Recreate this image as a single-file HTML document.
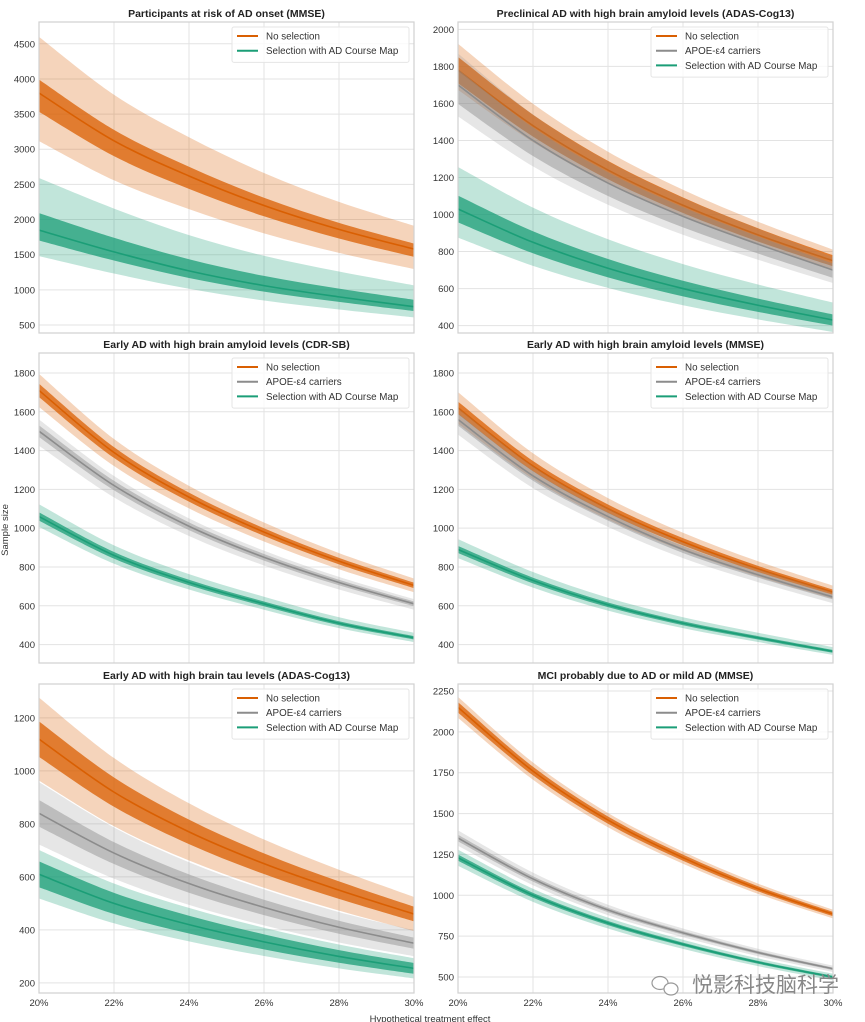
<!DOCTYPE html>
<html><head><meta charset="utf-8"><style>
body{margin:0;background:#fff;}
svg{display:block;font-family:"Liberation Sans","Noto Sans CJK SC",sans-serif;}
</style></head><body>
<svg id="chart" width="865" height="1022" viewBox="0 0 865 1022" xmlns="http://www.w3.org/2000/svg">
<text x="8" y="530" transform="rotate(-90 8 530)" font-size="9.5" fill="#333" text-anchor="middle">Sample size</text>
<text x="430" y="1022" font-size="9.5" fill="#333" text-anchor="middle">Hypothetical treatment effect</text>
</svg>
<script>
const effects=[20,22,24,26,28,30];
const xTicks=["20%","22%","24%","26%","28%","30%"];
const titles=["Participants at risk of AD onset (MMSE)","Preclinical AD with high brain amyloid levels (ADAS-Cog13)","Early AD with high brain amyloid levels (CDR-SB)","Early AD with high brain amyloid levels (MMSE)","Early AD with high brain tau levels (ADAS-Cog13)","MCI probably due to AD or mild AD (MMSE)"];
const seriesNames=["No selection","APOE-ε4 carriers","Selection with AD Course Map"];
// panel 1
const p1Orange=[3800,3120,2620,2200,1860,1580];
const p1Green=[1850,1540,1270,1060,900,760];
// panel 2
const p2Orange=[1780,1480,1240,1050,890,750];
const p2Gray=[1700,1400,1170,990,840,700];
const p2Green=[1030,850,710,600,510,430];
// panel 3
const p3Orange=[1710,1390,1160,980,830,705];
const p3Gray=[1500,1220,1010,850,720,610];
const p3Green=[1060,860,720,610,510,435];
// panel 4
const p4Orange=[1620,1320,1100,930,790,670];
const p4Gray=[1560,1270,1060,890,760,645];
const p4Green=[890,730,605,510,435,365];
// panel 5
const p5Orange=[1120,920,770,650,550,460];
const p5Gray=[840,690,575,485,410,350];
const p5Green=[610,500,420,355,300,255];
// panel 6
const p6Orange=[2150,1760,1460,1230,1040,885];
const p6Gray=[1350,1100,910,770,650,550];
const p6Green=[1230,1000,830,700,590,500];
// y tick labels
const yTicks1=[500,1000,1500,2000,2500,3000,3500,4000,4500];
const yTicks2=[400,600,800,1000,1200,1400,1600,1800,2000];
const yTicks3=[400,600,800,1000,1200,1400,1600,1800];
const yTicks4=[400,600,800,1000,1200,1400,1600,1800];
const yTicks5=[200,400,600,800,1000,1200];
const yTicks6=[500,750,1000,1250,1500,1750,2000,2250];
// band multipliers [innerLo,innerHi,outerLo,outerHi]
const bands={
 p1:{o:[0.93,1.05,0.82,1.21],g:[0.92,1.13,0.8,1.4]},
 p2:{o:[0.96,1.04,0.94,1.08],a:[0.94,1.05,0.9,1.1],g:[0.93,1.07,0.85,1.22]},
 p3:{o:[0.98,1.02,0.95,1.05],a:[0.98,1.02,0.95,1.04],g:[0.98,1.02,0.95,1.06]},
 p4:{o:[0.98,1.02,0.95,1.05],a:[0.98,1.02,0.95,1.04],g:[0.98,1.02,0.95,1.06]},
 p5:{o:[0.94,1.06,0.86,1.14],a:[0.94,1.06,0.86,1.14],g:[0.92,1.08,0.85,1.15]},
 p6:{o:[0.985,1.015,0.97,1.03],a:[0.985,1.015,0.965,1.035],g:[0.985,1.015,0.96,1.04]}
};
const colors={o:"#d95f02",a:"#8c8c8c",g:"#1b9e77"};
const panels=[
 {x0:39,x1:414,y0:22,y1:333,ymin:386,ymax:4810,ticks:yTicks1,series:[["o",p1Orange],["g",p1Green]],b:bands.p1,xl:false},
 {x0:458,x1:833,y0:22,y1:333,ymin:360,ymax:2040,ticks:yTicks2,series:[["o",p2Orange],["a",p2Gray],["g",p2Green]],b:bands.p2,xl:false},
 {x0:39,x1:414,y0:353,y1:663,ymin:305,ymax:1903,ticks:yTicks3,series:[["o",p3Orange],["a",p3Gray],["g",p3Green]],b:bands.p3,xl:false},
 {x0:458,x1:833,y0:353,y1:663,ymin:305,ymax:1903,ticks:yTicks4,series:[["o",p4Orange],["a",p4Gray],["g",p4Green]],b:bands.p4,xl:false},
 {x0:39,x1:414,y0:684,y1:993,ymin:162,ymax:1328,ticks:yTicks5,series:[["o",p5Orange],["a",p5Gray],["g",p5Green]],b:bands.p5,xl:true},
 {x0:458,x1:833,y0:684,y1:993,ymin:402,ymax:2293,ticks:yTicks6,series:[["o",p6Orange],["a",p6Gray],["g",p6Green]],b:bands.p6,xl:true}
];
const NS="http://www.w3.org/2000/svg";
const svg=document.getElementById("chart");
function mk(t,a,p){const e=document.createElementNS(NS,t);for(const k in a)e.setAttribute(k,a[k]);(p||svg).appendChild(e);return e;}
function smooth(pts){let d="M"+pts[0][0]+","+pts[0][1];for(let i=0;i<pts.length-1;i++){const p0=pts[Math.max(0,i-1)],p1=pts[i],p2=pts[i+1],p3=pts[Math.min(pts.length-1,i+2)];const c1=[p1[0]+(p2[0]-p0[0])/6,p1[1]+(p2[1]-p0[1])/6],c2=[p2[0]-(p3[0]-p1[0])/6,p2[1]-(p3[1]-p1[1])/6];d+=" C"+c1+" "+c2+" "+p2;}return d;}
panels.forEach((P,pi)=>{
 const g=mk("g",{});
 
 
 const xs=v=>P.x0+(v-20)/10*(P.x1-P.x0);
 const ys=v=>P.y1-(v-P.ymin)/(P.ymax-P.ymin)*(P.y1-P.y0);
 const t=mk("text",{x:(P.x0+P.x1)/2,y:P.y0-5,"font-size":"10.5","font-weight":"bold","text-anchor":"middle",fill:"#222"},g);
 t.textContent=titles[pi];
 
 
 effects.forEach((e,i)=>{
  const l=mk("line",{x1:xs(e),x2:xs(e),y1:P.y0,y2:P.y1,stroke:"#e3e3e3","stroke-width":1},g);
  
  
  if(P.xl){const tx=mk("text",{x:xs(e),y:P.y1+13,"font-size":"9.5","text-anchor":"middle",fill:"#333"},g);tx.textContent=xTicks[i];
   
   }
 });
 P.ticks.forEach(v=>{
  const l=mk("line",{x1:P.x0,x2:P.x1,y1:ys(v),y2:ys(v),stroke:"#e3e3e3","stroke-width":1},g);
  
  
  const tx=mk("text",{x:P.x0-4,y:ys(v)+3.5,"font-size":"9.5","text-anchor":"end",fill:"#333"},g);tx.textContent=v;
  
  
 });
 P.series.forEach(([k,vals])=>{
  const b=P.b[k];
  const band=(lo,hi,op,name)=>{
   const up=vals.map((v,i)=>[xs(effects[i]),ys(v*hi)]);
   const dn=vals.map((v,i)=>[xs(effects[i]),ys(v*lo)]).reverse();
   const d=smooth(up)+" L"+dn[0]+smooth(dn).slice(1).replace(/^[^C]*/,"")+" Z";
   const p=mk("path",{d:d,fill:colors[k],"fill-opacity":op,stroke:"none"},g);
   
   
  };
  band(b[2],b[3],k==="a"?0.22:0.27,'outer-band-'+k);
  band(b[0],b[1],k==="a"?0.45:0.75,'inner-band-'+k);
  const line=mk("path",{d:smooth(vals.map((v,i)=>[xs(effects[i]),ys(v)])),fill:"none",stroke:colors[k],"stroke-width":1.6},g);
  
  
 });
 const fr=mk("rect",{x:P.x0,y:P.y0,width:P.x1-P.x0,height:P.y1-P.y0,fill:"none",stroke:"#d0d0d0","stroke-width":1.2},g);
 
 
 // legend
 const n=P.series.length, lx=P.x1-182, ly=P.y0+5;
 const lg=mk("g",{},g);
 
 
 mk("rect",{x:lx,y:ly,width:177,height:n*14.7+6,fill:"#fff","fill-opacity":0.8,stroke:"#e5e5e5",rx:2},lg);
 P.series.forEach(([k],i)=>{
  const yy=ly+9+i*14.7;
  mk("line",{x1:lx+5,x2:lx+26,y1:yy,y2:yy,stroke:colors[k],"stroke-width":2},lg);
  const tx=mk("text",{x:lx+34,y:yy+3.5,"font-size":"9.8",fill:"#333"},lg);
  tx.textContent=seriesNames[k==="o"?0:k==="a"?1:2];
  
  
 });
});
const wm=mk("g",{});


mk("ellipse",{cx:660,cy:983,rx:8,ry:6.5,fill:"none",stroke:"#999","stroke-width":1.2},wm);
mk("ellipse",{cx:671,cy:989,rx:7,ry:6,fill:"#fff",stroke:"#999","stroke-width":1.2},wm);
const wt=mk("text",{x:692,y:992,"font-size":"21",fill:"#888","font-family":"\"Noto Sans CJK SC\",sans-serif"},wm);
wt.textContent="悦影科技脑科学";
</script>
</body></html>
